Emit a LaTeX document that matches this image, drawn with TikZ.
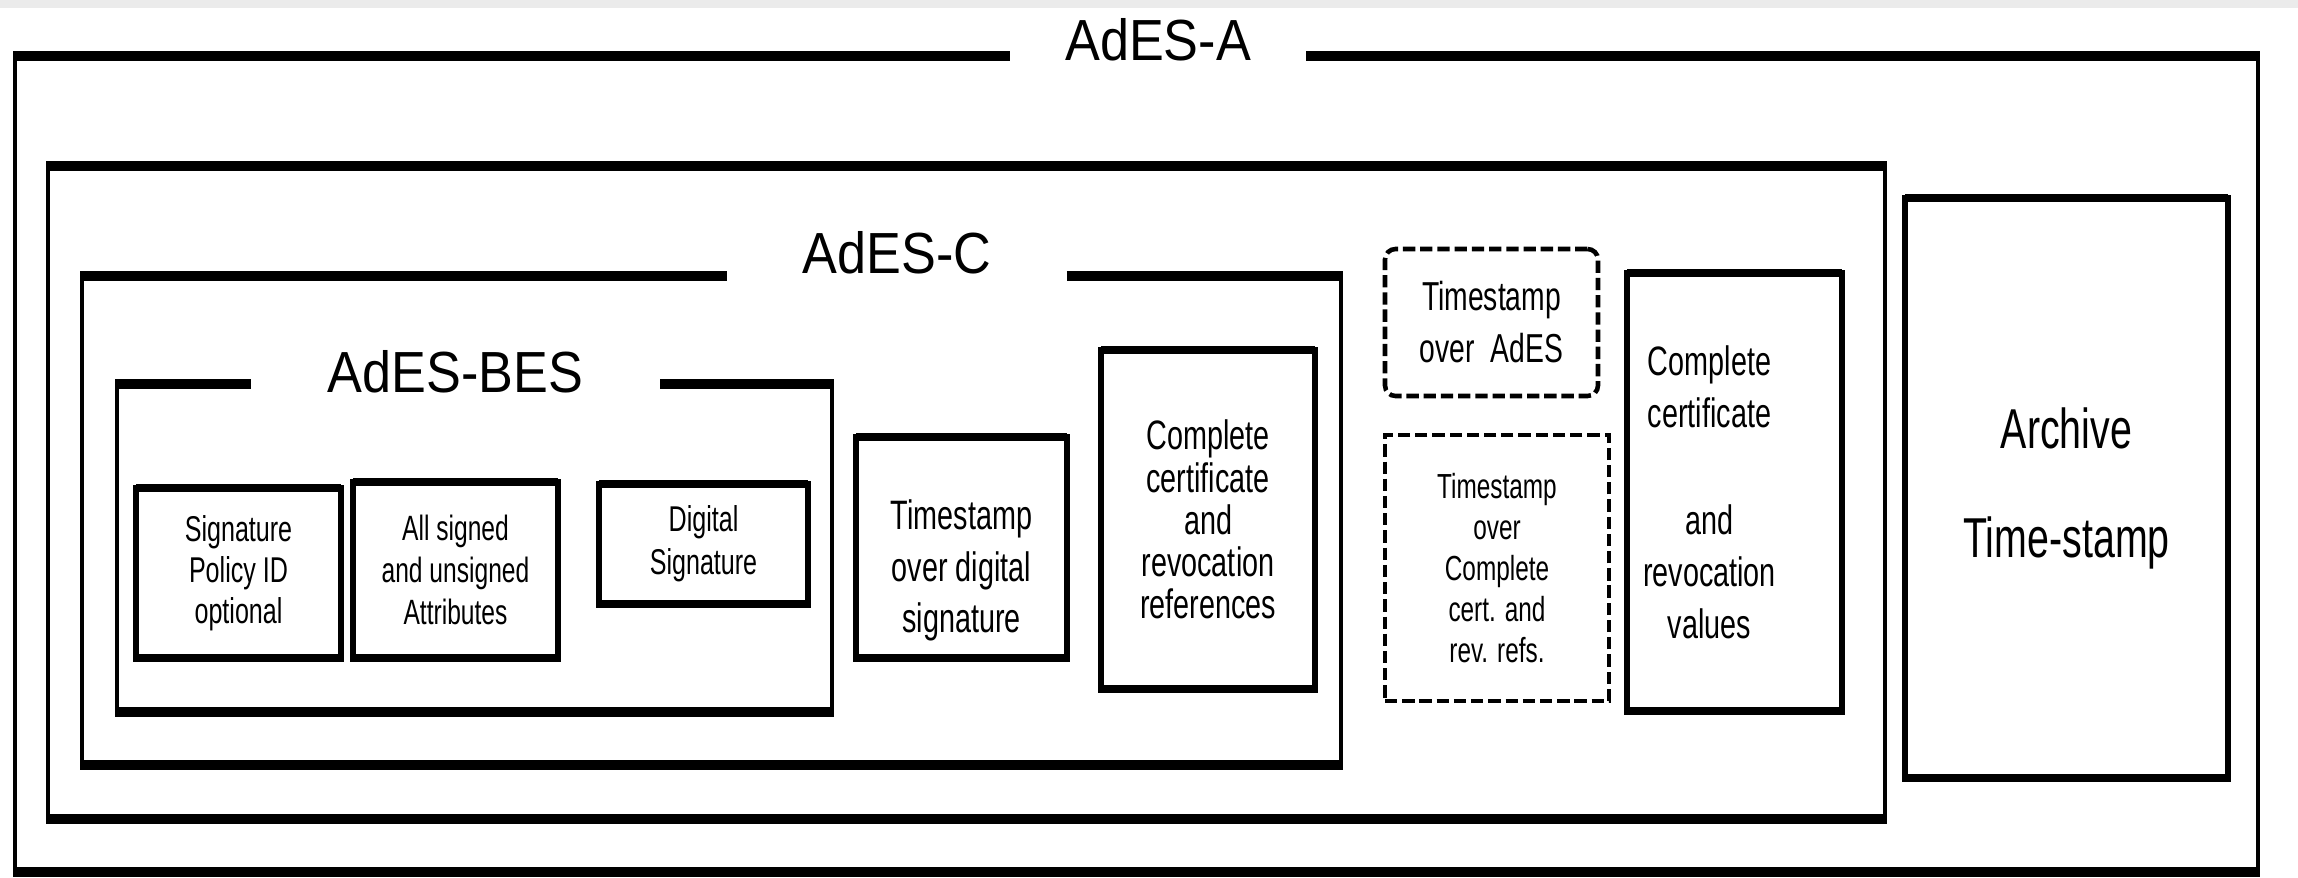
\documentclass[tikz,border=0pt]{standalone}
\usepackage{fontspec}
\setmainfont{Liberation Sans}
\newfontfamily\narrowfont{Liberation Sans}[FakeStretch=0.7]
\newfontfamily\titlefont{Liberation Sans}[FakeStretch=0.9]

\tikzset{
  hedge/.style={line width=2.6pt, shorten <=-0.5pt, shorten >=-0.5pt},
  vedge/.style={line width=1pt},
  frame/.style={inner sep=0pt, outer sep=0pt},
  title/.style={font=\titlefont\fontsize{16.5}{18}\selectfont, inner sep=0pt, outer sep=0pt},
  txt/.style 2 args={font=\narrowfont\fontsize{#1}{#2}\selectfont},
  cell/.style={draw, line width=1.5pt, inner sep=0pt, outer sep=0pt, align=center},
  dashcell/.style={cell, line width=1.3pt, dash pattern=on 3.5pt off 1.4pt},
  hrule/.style={line width=2.1pt, shorten <=-0.75pt, shorten >=-0.75pt},
}

\begin{document}
\begin{tikzpicture}
    \useasboundingbox (0,0) rectangle (22.98,-8.78);
    \fill[black!8] (0,0) rectangle (22.98,-0.08);

    % nested frames
    \node[frame, minimum width=22.43cm, minimum height=8.16cm] (adesA) at (11.365,-4.64) {};
    \node[frame, minimum width=18.37cm, minimum height=6.53cm] (adesX) at (9.665,-4.925) {};
    \node[frame, minimum width=12.59cm, minimum height=4.89cm] (adesC) at (7.115,-5.205) {};
    \node[frame, minimum width=7.15cm, minimum height=3.28cm] (adesBES) at (4.745,-5.48) {};

    \node[title, minimum width=3.0cm] (tA) at (11.58,-0.40) {AdES-A};
    \node[title, minimum width=3.43cm] (tC) at (8.97,-2.53) {AdES-C};
    \node[title, minimum width=4.13cm] (tBES) at (4.555,-3.72) {AdES-BES};

    \foreach \f in {adesA, adesX, adesC, adesBES} {
        \draw[vedge] (\f.north west) -- (\f.south west) (\f.north east) -- (\f.south east);
        \draw[hedge] (\f.south west) -- (\f.south east);
    }
    \draw[hedge] (adesX.north west) -- (adesX.north east);
    \draw[hedge] (adesA.north west) -- (adesA.north west -| tA.west);
    \draw[hedge] (tA.east |- adesA.north east) -- (adesA.north east);
    \draw[hedge] (adesC.north west) -- (adesC.north west -| tC.west);
    \draw[hedge] (tC.east |- adesC.north east) -- (adesC.north east);
    \draw[hedge] (adesBES.north west) -- (adesBES.north west -| tBES.west);
    \draw[hedge] (tBES.east |- adesBES.north east) -- (adesBES.north east);

    % content boxes
    \node[cell, txt={10.2}{11.6}, minimum width=2.05cm, minimum height=1.70cm] (sig) at (2.385,-5.73) {Signature\\Policy ID\\optional};
    \node[cell, txt={10}{12}, minimum width=2.05cm, minimum height=1.76cm] (attr) at (4.555,-5.70) {All signed\\and unsigned\\Attributes};
    \node[cell, txt={10.2}{12.2}, minimum width=2.09cm, minimum height=1.20cm] (dsig) at (7.035,-5.44) {Digital\\Signature};
    \node[cell, minimum width=2.11cm, minimum height=2.21cm,
          label={[txt={11.7}{14.6}, align=center, yshift=-0.23cm]center:{Timestamp\\over digital\\signature}}] (tsdig) at (9.615,-5.475) {};
    \node[cell, txt={11.7}{12}, minimum width=2.14cm, minimum height=3.39cm] (refs) at (12.08,-5.195) {Complete\\certificate\\and\\revocation\\references};
    \node[dashcell, rounded corners=3pt, txt={11.5}{14.8}, minimum width=2.13cm, minimum height=1.47cm] (tsades) at (14.915,-3.225) {Timestamp\\over~~AdES};
    \node[dashcell, line width=1.1pt, txt={9.9}{11.7}, minimum width=2.24cm, minimum height=2.66cm] (tsrefs) at (14.97,-5.68) {Timestamp\\over\\Complete\\cert. and\\rev. refs.};
    \node[cell, minimum width=2.15cm, minimum height=4.38cm,
          label={[txt={11.7}{14.8}, align=center, xshift=-0.25cm]center:{Complete\\certificate\\[0.55cm]and\\revocation\\values}}] (vals) at (17.345,-4.92) {};
    \node[cell, txt={16}{31}, minimum width=3.23cm, minimum height=5.80cm] (arch) at (20.665,-4.88) {Archive\\Time-stamp};

    \foreach \c in {sig, attr, dsig, tsdig, refs, vals, arch}
        \draw[hrule] (\c.north west) -- (\c.north east) (\c.south west) -- (\c.south east);
\end{tikzpicture}
\end{document}
